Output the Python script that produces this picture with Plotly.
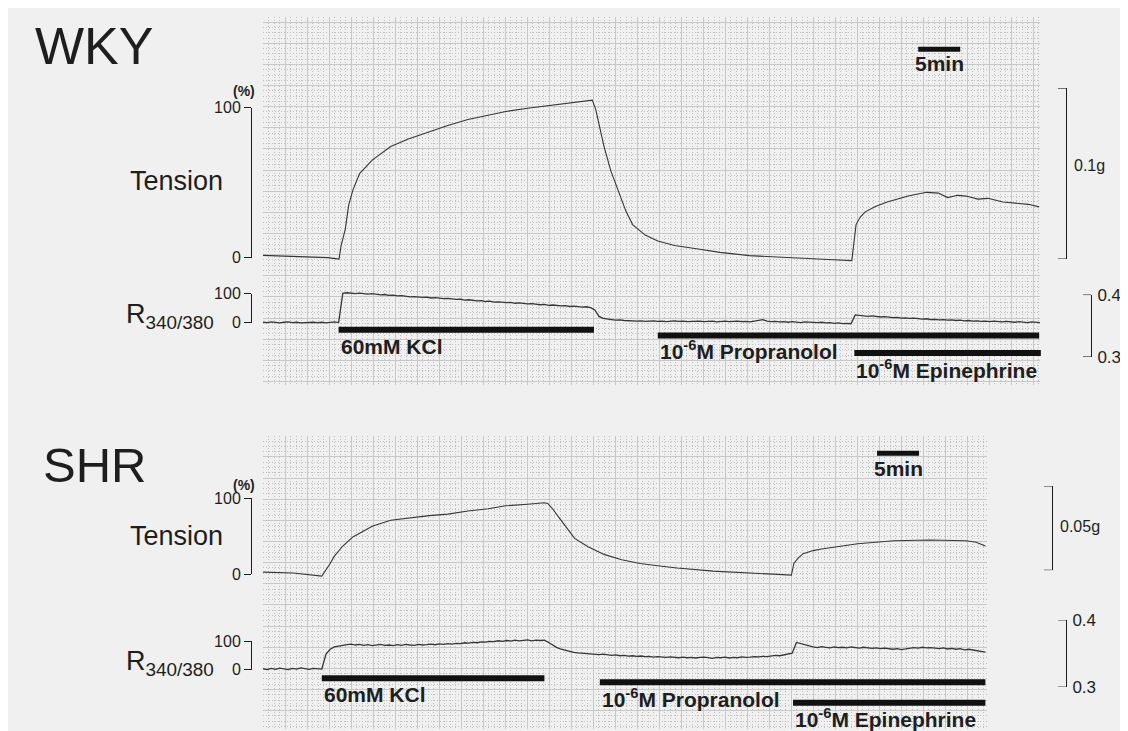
import plotly.graph_objects as go

W, H = 1128, 731
FONT = "Liberation Sans, Arial, sans-serif"
INK = "#1e1e1e"
TRACE = "#363636"
BG = "#f0f0f0"
GRID_MAJOR = "#c8c8c8"
GRID_MINOR = "#c0c0c0"

# ---------------- data ----------------
# WKY tension, % of maximal KCl contraction, vs time (min)
wky_tension_t = [0, 1.8, 5.4, 7.7, 9.05, 9.3, 9.8, 10.2, 10.7, 11.5, 13.0, 15.2, 17.3, 19.8, 22.0,
                 24.4, 26.8, 28.9, 31.5, 33.5, 36.3, 38.7, 39.2, 39.6, 40.1, 40.6, 41.4, 42.4, 43.2, 44.0,
                 45.5, 47.0, 49.0, 51.4, 54.4, 57.9, 61.3, 64.3, 67.3, 70.1, 70.35, 70.6, 71.1, 71.7, 72.9,
                 74.3, 76.8, 79.0, 80.4, 81.5, 82.7, 83.7, 85.1, 86.3, 88.1, 89.9, 91.1, 92.4]
wky_tension_v = [1.5, 1.2, 0.6, 0, -1, 8, 19, 35, 45, 56, 65, 74, 79, 84, 88,
                 92, 95, 97.4, 99.5, 101, 103, 104.5, 105, 99, 86, 74, 58, 43.5, 31, 22,
                 15, 11, 8, 6, 3.5, 1.3, 0.2, -0.6, -1.3, -2, 10, 22, 27, 30.5, 34,
                 37, 41, 43.5, 43, 40, 41.5, 41, 39, 39.5, 37, 36, 35.5, 33.8]

# recorder ratio channel sampled every 0.5 min
RATIO_STEP_MIN = 0.5
# WKY R340/380 (% of KCl response), t = 0 ... 92.5 min
wky_ratio_v = [2, 1, 3, 2, 0, 2, 3, 1, 2, 0,
               1, 3, 2, 1, 2, 0, 2, 3, 1, 101,
               103, 101, 100, 102, 99, 98, 100, 97, 96, 97,
               94, 95, 92, 93, 91, 89, 90, 88, 87, 88,
               85, 86, 84, 83, 84, 81, 80, 81, 78, 79,
               76, 75, 76, 73, 74, 71, 72, 70, 69, 70,
               67, 68, 66, 65, 66, 63, 62, 63, 60, 61,
               59, 58, 59, 56, 57, 55, 54, 55, 52, 44,
               22, 15, 12, 11, 9, 10, 8, 7, 8, 6,
               7, 5, 6, 7, 5, 6, 4, 6, 7, 5,
               6, 4, 5, 7, 6, 4, 5, 6, 3, 5,
               6, 4, 5, 6, 4, 5, 3, 5, 7, 11,
               6, 4, 5, 3, 4, 2, 4, 3, 1, 3,
               2, 0, 1, 2, 0, 1, -2, 0, -3, -2,
               -3, 27, 25, 24, 22, 24, 21, 20, 21, 19,
               18, 19, 16, 17, 15, 16, 14, 13, 14, 11,
               12, 10, 11, 9, 10, 8, 9, 7, 8, 6,
               7, 5, 6, 4, 6, 5, 3, 5, 4, 2,
               4, 3, 1, 3, 2, 1]

# SHR tension
shr_tension_t = [0, 3.6, 7.0, 7.5, 8.0, 8.45, 9.5, 10.7, 13.0, 15.2, 17.3, 19.8, 22.0, 24.4, 26.8,
                 28.9, 31.5, 33.5, 33.9, 34.4, 35.4, 36.3, 37.1, 38.7, 39.9, 40.6, 42.7, 44.9, 47.0, 49.3,
                 53.6, 57.9, 60.7, 62.9, 63.2, 63.7, 64.3, 65.5, 66.5, 70.8, 75.1, 79.4, 83.7, 84.9, 86.0]
shr_tension_v = [2.6, 1.5, -2.6, 5, 14, 23, 37, 49, 63, 71, 74, 77, 79, 83, 86,
                 90, 92, 94, 93, 87, 72, 58, 47, 36, 29, 26, 19, 14, 11, 8,
                 4, 1, 0, -1.3, 14, 21, 27, 31, 33, 40, 44, 45, 44, 42, 37]

# SHR R340/380, t = 0 ... 86 min
shr_ratio_v = [3, 0, 4, 1, 5, 2, 0, 4, 2, 6,
               3, 1, 4, 2, 2, 55, 72, 80, 84, 86,
               88, 90, 87, 89, 86, 88, 85, 87, 89, 86,
               87, 85, 88, 86, 89, 87, 86, 89, 87, 88,
               90, 88, 91, 89, 92, 90, 93, 92, 95, 94,
               96, 95, 98, 97, 100, 99, 102, 100, 103, 101,
               104, 102, 103, 105, 102, 104, 103, 104, 96, 86,
               78, 72, 68, 64, 61, 59, 58, 56, 55, 54,
               53, 55, 52, 50, 52, 49, 50, 48, 49, 47,
               48, 46, 47, 44, 46, 45, 43, 45, 44, 42,
               44, 42, 43, 41, 43, 44, 42, 40, 43, 42,
               44, 41, 43, 42, 45, 43, 44, 46, 45, 47,
               46, 48, 50, 49, 52, 54, 58, 96, 92, 86,
               82, 80, 78, 81, 79, 77, 80, 78, 79, 77,
               80, 78, 76, 79, 77, 75, 77, 74, 76, 73,
               72, 74, 71, 73, 75, 78, 76, 79, 77, 78,
               76, 74, 77, 73, 75, 72, 74, 70, 72, 69,
               67, 64, 62]

assert len(wky_tension_t) == len(wky_tension_v)
assert len(shr_tension_t) == len(shr_tension_v)

wky_ratio_t = [i * RATIO_STEP_MIN for i in range(len(wky_ratio_v))]
shr_ratio_t = [i * RATIO_STEP_MIN for i in range(len(shr_ratio_v))]

drug_labels = ["60mM KCl", "10<sup>-6</sup>M Propranolol", "10<sup>-6</sup>M Epinephrine"]
wky_drug_on = [9.0, 47.0, 70.4]
wky_drug_off = [39.4, 92.4, 92.6]
shr_drug_on = [7.0, 40.1, 63.1]
shr_drug_off = [33.5, 86.0, 86.0]

scale_bar_min = 5
scale_bar_label = "5min"
wky_scale_bar_start = 78.0
shr_scale_bar_start = 73.1

tension_ticks = [0, 100]
ratio_pct_ticks = [0, 100]
ratio_abs_ticks = [0.3, 0.4]
wky_gram_cal = 0.1
shr_gram_cal = 0.05
gram_labels = ["0.1g", "0.05g"]

# ---------------- layout helpers (pixel calibration) ----------------
def px(x):
    return x / W


def py(y):
    return 1 - y / H


def ydom(top, bot):
    return [py(bot), py(top)]


def cal_range(top, bot, y_zero, y_hundred):
    k = (y_zero - y_hundred) / 100.0
    return [(y_zero - bot) / k, (y_zero - top) / k]


PX_PER_MIN = 8.4
T_LEFT = 255
T_RIGHT = 1040

fig = go.Figure()
layout = {}


def grid_axes(xl, xr, yt, yb, y_tick0):
    minor_x = dict(showgrid=True, gridcolor=GRID_MINOR, griddash="1px,2px", gridwidth=1,
                   tick0=xl, dtick=5.5, ticks="")
    minor_y = dict(showgrid=True, gridcolor=GRID_MINOR, griddash="1px,2px", gridwidth=1,
                   tick0=y_tick0, dtick=21.7 / 4, ticks="")
    xa = dict(domain=[px(xl), px(xr)], range=[xl, xr], tick0=xl, dtick=22,
              showgrid=True, gridcolor=GRID_MAJOR, gridwidth=1, zeroline=False,
              showticklabels=False, ticks="", showline=False, minor=minor_x)
    ya = dict(domain=ydom(yt, yb), range=[yb, yt], tick0=y_tick0, dtick=21.7,
              showgrid=True, gridcolor=GRID_MAJOR, gridwidth=1, zeroline=False,
              showticklabels=False, ticks="", showline=False, minor=minor_y)
    return xa, ya


# grid paper (axes in pixel units)
xa, ya = grid_axes(255, 1032, 0, 378, 5.3)
xa["anchor"] = "y"; ya["anchor"] = "x"
layout["xaxis"], layout["yaxis"] = xa, ya
xa, ya = grid_axes(255, 979, 430, 731, 430)
xa["anchor"] = "y2"; ya["anchor"] = "x2"
layout["xaxis2"], layout["yaxis2"] = xa, ya
fig.add_trace(go.Scatter(x=[None], y=[None], xaxis="x", yaxis="y", showlegend=False, hoverinfo="skip"))
fig.add_trace(go.Scatter(x=[None], y=[None], xaxis="x2", yaxis="y2", showlegend=False, hoverinfo="skip"))

# shared time axis
layout["xaxis3"] = dict(domain=[px(T_LEFT), px(T_RIGHT)],
                        range=[0, (T_RIGHT - T_LEFT) / PX_PER_MIN],
                        visible=False, anchor="y3")

panels = [
    dict(t_zero=247, t_hund=93, t_dom=(40, 265), r_zero=314, r_hund=284, r_dom=(265, 322),
         ya_t="y3", ya_ts="y4", ya_r="y5", ya_rs="y6", ya_g="y11", ya_ra="y12",
         g_dom=(73, 248), g_pos=1058, g_cal=wky_gram_cal, g_label=gram_labels[0], g_lab_y=152,
         ra_dom=(285, 349), ra_pos=1083,
         tt=wky_tension_t, tv=wky_tension_v, rt=wky_ratio_t, rv=wky_ratio_v,
         on=wky_drug_on, off=wky_drug_off, bar_y=[321, 327, 345], lab_y=[338, 342, 361],
         sb_start=wky_scale_bar_start, sb_y=33, sb_lab_y=48,
         title="WKY", title_size=52, title_xy=(25, 30), pct_y=76, tens_lab_y=168, r_lab_y=307),
    dict(t_zero=572, t_hund=494, t_dom=(470, 590), r_zero=670, r_hund=641, r_dom=(620, 680),
         ya_t="y7", ya_ts="y8", ya_r="y9", ya_rs="y10", ya_g="y13", ya_ra="y14",
         g_dom=(482, 568), g_pos=1044, g_cal=shr_gram_cal, g_label=gram_labels[1], g_lab_y=523,
         ra_dom=(619, 688), ra_pos=1058,
         tt=shr_tension_t, tv=shr_tension_v, rt=shr_ratio_t, rv=shr_ratio_v,
         on=shr_drug_on, off=shr_drug_off, bar_y=[679, 683, 704], lab_y=[696, 699, 720],
         sb_start=shr_scale_bar_start, sb_y=448, sb_lab_y=464,
         title="SHR", title_size=49, title_xy=(33, 460), pct_y=480, tens_lab_y=533, r_lab_y=663),
]

shapes = []
annotations = []


def lname(axid):
    return "yaxis" + axid[1:]


def left_ticks(axid, x_line, vals, length):
    for v in vals:
        shapes.append(dict(type="line", xref="paper", yref=axid, x0=px(x_line - length),
                           x1=px(x_line), y0=v, y1=v, line=dict(color=INK, width=1)))


for p in panels:
    # data axes (invisible)
    layout[lname(p["ya_t"])] = dict(domain=ydom(*p["t_dom"]),
                                    range=cal_range(p["t_dom"][0], p["t_dom"][1], p["t_zero"], p["t_hund"]),
                                    visible=False, anchor="x3")
    layout[lname(p["ya_r"])] = dict(domain=ydom(*p["r_dom"]),
                                    range=cal_range(p["r_dom"][0], p["r_dom"][1], p["r_zero"], p["r_hund"]),
                                    visible=False, anchor="x3")
    # % scale axes
    for axid, y0, y100, ticks in [(p["ya_ts"], p["t_zero"], p["t_hund"], tension_ticks),
                                  (p["ya_rs"], p["r_zero"], p["r_hund"], ratio_pct_ticks)]:
        layout[lname(axid)] = dict(domain=ydom(y100, y0), range=[0, 100], anchor="free",
                                   position=px(243), side="left", showline=True, linecolor=INK,
                                   linewidth=1, ticks="outside", ticklen=7, tickwidth=1,
                                   tickcolor=INK, tickvals=ticks, ticktext=[str(v) for v in ticks],
                                   tickfont=dict(family=FONT, size=16, color=INK),
                                   showgrid=False, zeroline=False)
        fig.add_trace(go.Scatter(x=[None], y=[None], xaxis="x3", yaxis=axid,
                                 showlegend=False, hoverinfo="skip"))
    # gram calibration bracket
    layout[lname(p["ya_g"])] = dict(domain=ydom(*p["g_dom"]), range=[0, p["g_cal"]], anchor="free",
                                    position=px(p["g_pos"]), side="right", showline=True,
                                    linecolor=INK, linewidth=1, ticks="", showticklabels=False,
                                    showgrid=False, zeroline=False)
    fig.add_trace(go.Scatter(x=[None], y=[None], xaxis="x3", yaxis=p["ya_g"],
                             showlegend=False, hoverinfo="skip"))
    left_ticks(p["ya_g"], p["g_pos"], [0, p["g_cal"]], 8)
    annotations.append(dict(x=px(p["g_pos"] + 6), y=py(p["g_lab_y"]), xref="paper", yref="paper",
                            text=p["g_label"], showarrow=False, xanchor="left", yanchor="middle",
                            font=dict(family=FONT, size=16, color=INK)))
    # absolute ratio scale
    layout[lname(p["ya_ra"])] = dict(domain=ydom(*p["ra_dom"]), range=ratio_abs_ticks, anchor="free",
                                     position=px(p["ra_pos"]), side="right", showline=True,
                                     linecolor=INK, linewidth=1, ticks="", ticklabelstandoff=2,
                                     tickvals=ratio_abs_ticks,
                                     ticktext=[f"{v:.1f}" for v in ratio_abs_ticks],
                                     tickfont=dict(family=FONT, size=17, color=INK),
                                     showgrid=False, zeroline=False)
    fig.add_trace(go.Scatter(x=[None], y=[None], xaxis="x3", yaxis=p["ya_ra"],
                             showlegend=False, hoverinfo="skip"))
    left_ticks(p["ya_ra"], p["ra_pos"], ratio_abs_ticks, 8)

    # traces
    fig.add_trace(go.Scatter(x=p["tt"], y=p["tv"], xaxis="x3", yaxis=p["ya_t"], mode="lines",
                             line=dict(color=TRACE, width=1.1), showlegend=False, hoverinfo="skip"))
    fig.add_trace(go.Scatter(x=p["rt"], y=p["rv"], xaxis="x3", yaxis=p["ya_r"], mode="lines",
                             line=dict(color=TRACE, width=1.3), showlegend=False, hoverinfo="skip"))

    # drug application bars and labels
    for i, label in enumerate(drug_labels):
        shapes.append(dict(type="line", xref="x3", yref="paper", x0=p["on"][i], x1=p["off"][i],
                           y0=py(p["bar_y"][i]), y1=py(p["bar_y"][i]),
                           line=dict(color="#111111", width=6)))
        annotations.append(dict(x=p["on"][i], y=py(p["lab_y"][i]), xref="x3", yref="paper",
                                text="<b>" + label + "</b>", showarrow=False, xanchor="left",
                                xshift=0, yanchor="middle",
                                font=dict(family=FONT, size=21, color=INK)))
    # 5 min scale bar
    shapes.append(dict(type="line", xref="x3", yref="paper", x0=p["sb_start"],
                       x1=p["sb_start"] + scale_bar_min, y0=py(p["sb_y"]), y1=py(p["sb_y"]),
                       line=dict(color="#111111", width=5)))
    annotations.append(dict(x=p["sb_start"] + scale_bar_min / 2, y=py(p["sb_lab_y"]), xref="x3",
                            yref="paper", text="<b>" + scale_bar_label + "</b>", showarrow=False,
                            xanchor="center", yanchor="middle",
                            font=dict(family=FONT, size=21, color=INK)))
    # labels
    annotations.append(dict(x=px(p["title_xy"][0]), y=py(p["title_xy"][1]), xref="paper",
                            yref="paper", text=p["title"], showarrow=False, xanchor="left",
                            yanchor="middle", font=dict(family=FONT, size=p["title_size"], color=INK)))
    annotations.append(dict(x=px(236), y=py(p["pct_y"]), xref="paper", yref="paper", text="<b>(%)</b>",
                            showarrow=False, xanchor="center", yanchor="middle",
                            font=dict(family=FONT, size=14, color=INK)))
    annotations.append(dict(x=px(217), y=py(p["tens_lab_y"]), xref="paper", yref="paper",
                            text="Tension", showarrow=False, xanchor="right", yanchor="middle",
                            font=dict(family=FONT, size=27, color=INK)))
    annotations.append(dict(x=px(208), y=py(p["r_lab_y"]), xref="paper", yref="paper",
                            text="R<sub>340/380</sub>", showarrow=False, xanchor="right",
                            yanchor="middle", font=dict(family=FONT, size=27, color=INK)))

layout.update(dict(width=W, height=H, margin=dict(l=0, r=0, t=0, b=0), autosize=False,
                   paper_bgcolor=BG, plot_bgcolor="rgba(0,0,0,0)", showlegend=False,
                   shapes=shapes, annotations=annotations, font=dict(family=FONT, color=INK)))
fig.update_layout(**layout)
fig.write_html("out.html", config={"displayModeBar": False})
